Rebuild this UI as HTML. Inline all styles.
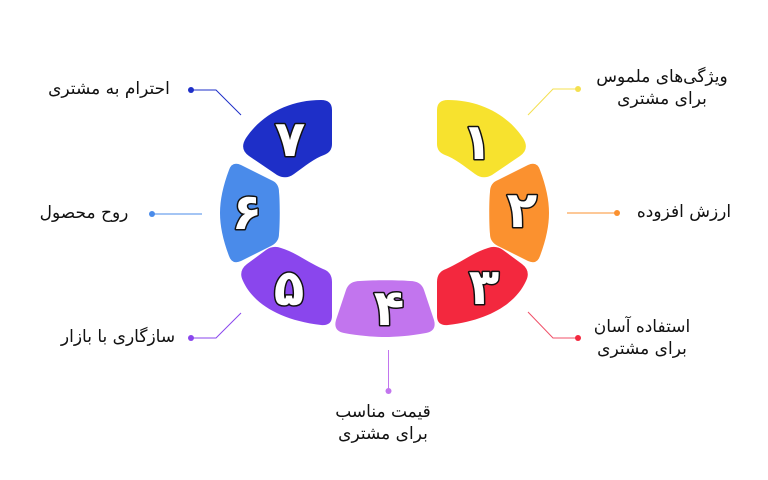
<!DOCTYPE html>
<html><head><meta charset="utf-8">
<style>
html,body{margin:0;padding:0;background:#fff;}
#wrap{position:relative;width:768px;height:480px;overflow:hidden;background:#fff;}
svg{position:absolute;left:0;top:0;}
.lb{position:absolute;width:220px;text-align:center;direction:rtl;font-family:"DejaVu Sans","Liberation Sans",sans-serif;font-size:17px;line-height:22px;color:#111;white-space:nowrap;}
.dg{font-family:"DejaVu Sans","Liberation Sans",sans-serif;font-weight:bold;font-size:50px;fill:#fff;stroke:#111;stroke-width:3;paint-order:stroke;stroke-linejoin:round;text-anchor:middle;}
</style></head>
<body><div id="wrap">
<svg width="768" height="480" viewBox="0 0 768 480">
  <!-- segments -->
  <path fill="#F7E22E" d="M 437,110 Q 437,100 448,100 C 479,100 507,114 523,138 Q 530,149 520,156 L 492,175 Q 483,180 475,174 C 464,166 454,158 445,155 Q 437,152 437,144 Z"/>
  <path fill="#FB912F" d="M 490,192 Q 490,183 498,180 L 528,165 Q 537,161 540,170 C 546,186 549,200 549,213 C 549,226 546,240 540,256 Q 537,265 528,261 L 498,246 Q 490,242 490,234 C 489,225 489,200 490,192 Z"/>
  <path fill="#F3283E" d="M 437,282 Q 437,272 446,269 C 460,263 474,252 488,248 Q 496,245 503,250 L 522,264 Q 531,271 526,281 C 516,303 490,320 448,325 Q 437,326 437,316 Z"/>
  <path fill="#C275EE" d="M 346,290 Q 349,281 360,281 C 372,280 398,280 410,281 Q 421,281 424,290 L 434,320 Q 437,331 426,333 C 410,336 395,337 385,337 C 375,337 360,336 344,333 Q 333,331 336,320 Z"/>
  <path fill="#8A46ED" d="M 332,282 Q 332,272 323,269 C 309,263 295,252 281,248 Q 273,245 266,250 L 247,264 Q 238,271 243,281 C 253,303 279,320 321,325 Q 332,326 332,316 Z"/>
  <path fill="#4A8BEA" d="M 279,192 Q 279,183 271,180 L 241,165 Q 232,161 229,170 C 223,186 220,200 220,213 C 220,226 223,240 229,256 Q 232,265 241,261 L 271,246 Q 279,242 279,234 C 280,225 280,200 279,192 Z"/>
  <path fill="#1E2FC8" d="M 332,110 Q 332,100 321,100 C 290,100 262,114 246,138 Q 239,149 249,156 L 277,175 Q 286,180 294,174 C 305,166 315,158 324,155 Q 332,152 332,144 Z"/>

  <!-- digits -->
  <text class="dg" x="477" y="159">۱</text>
  <text class="dg" x="522" y="227">۲</text>
  <text class="dg" x="484" y="304">۳</text>
  <text class="dg" x="389" y="325">۴</text>
  <text class="dg" x="289" y="305">۵</text>
  <text class="dg" x="247" y="229">۶</text>
  <text class="dg" x="290" y="156">۷</text>

  <!-- connectors -->
  <g fill="none" stroke-width="1">
    <path d="M 578,89 L 553,89 L 528,115" stroke="#F4E050"/>
    <path d="M 617,213 L 567,213" stroke="#FB912F"/>
    <path d="M 578,338 L 553,338 L 528,312" stroke="#F05068"/>
    <path d="M 388.5,350 L 388.5,391" stroke="#C275EE"/>
    <path d="M 191,338 L 216,338 L 241,313" stroke="#8A46ED"/>
    <path d="M 152,214 L 202,214" stroke="#4A8BEA"/>
    <path d="M 191,90 L 216,90 L 241,115" stroke="#1E2FC8"/>
  </g>
  <circle cx="578" cy="89" r="3" fill="#F4E050"/>
  <circle cx="617" cy="213" r="3" fill="#FB912F"/>
  <circle cx="578" cy="338" r="3" fill="#F3283E"/>
  <circle cx="388.5" cy="391" r="3" fill="#C275EE"/>
  <circle cx="191" cy="338" r="3" fill="#8A46ED"/>
  <circle cx="152" cy="214" r="3" fill="#4A8BEA"/>
  <circle cx="191" cy="90" r="3" fill="#1E2FC8"/>
</svg>

<div class="lb" style="left:552px;top:66px;">ویژگی‌های ملموس<br>برای مشتری</div>
<div class="lb" style="left:574px;top:201px;">ارزش افزوده</div>
<div class="lb" style="left:532px;top:316px;">استفاده آسان<br>برای مشتری</div>
<div class="lb" style="left:273px;top:401px;">قیمت مناسب<br>برای مشتری</div>
<div class="lb" style="left:8px;top:326px;">سازگاری با بازار</div>
<div class="lb" style="left:-26px;top:202px;">روح محصول</div>
<div class="lb" style="left:-1px;top:78px;">احترام به مشتری</div>
</div></body></html>
